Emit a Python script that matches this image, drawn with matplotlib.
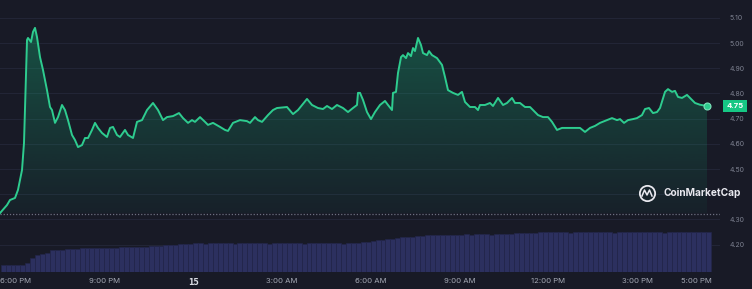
import numpy as np
import matplotlib
matplotlib.use("Agg")
import matplotlib.pyplot as plt
from matplotlib.lines import Line2D
from matplotlib.transforms import blended_transform_factory
from matplotlib.patches import Polygon

plt.rcParams['font.family'] = ['Inter', 'DejaVu Sans']

# ---- data (time in hours from 14th 00:00, price in USD) ----
price_time = [17.476, 17.713, 17.814, 17.983, 18.084, 18.220, 18.287, 18.389, 18.422, 18.524,
              18.591, 18.659, 18.726, 18.828, 18.929, 19.064, 19.166, 19.233, 19.335, 19.436,
              19.571, 19.672, 19.774, 19.909, 20.010, 20.112, 20.247, 20.348, 20.450, 20.585,
              20.686, 20.787, 20.922, 21.091, 21.193, 21.294, 21.429, 21.530, 21.699, 21.801,
              21.970, 22.105, 22.274, 22.443, 22.645, 22.814, 22.983, 23.118, 23.321, 23.524,
              23.659, 23.828, 23.963, 24.064, 24.233, 24.402, 24.503, 24.672, 24.909, 25.078,
              25.179, 25.348, 25.584, 25.821, 25.922, 26.091, 26.192, 26.328, 26.530, 26.699,
              26.834, 27.172, 27.375, 27.544, 27.848, 28.017, 28.219, 28.388, 28.524, 28.692,
              28.861, 29.064, 29.233, 29.402, 29.537, 29.571, 29.639, 29.740, 29.875, 30.010,
              30.145, 30.314, 30.483, 30.585, 30.720, 30.753, 30.855, 30.922, 31.024, 31.091,
              31.193, 31.260, 31.361, 31.429, 31.496, 31.598, 31.699, 31.767, 31.902, 31.969,
              32.071, 32.240, 32.409, 32.510, 32.611, 32.780, 32.949, 33.084, 33.186, 33.355,
              33.524, 33.625, 33.692, 33.861, 34.030, 34.132, 34.301, 34.470, 34.605, 34.774,
              34.875, 35.044, 35.213, 35.382, 35.483, 35.652, 35.821, 35.990, 36.125, 36.294,
              36.463, 36.632, 36.801, 36.970, 37.071, 37.240, 37.409, 37.578, 37.747, 37.983,
              38.152, 38.321, 38.423, 38.558, 38.692, 38.861, 38.997, 39.165, 39.267, 39.402,
              39.537, 39.672, 39.774, 39.943, 40.044, 40.179, 40.280, 40.382, 40.517, 40.686,
              40.787, 40.956, 41.125, 41.361]
price = [4.325, 4.357, 4.377, 4.385, 4.417, 4.496, 4.603, 5.012, 5.020, 5.004,
         5.044, 5.060, 5.024, 4.944, 4.893, 4.813, 4.746, 4.734, 4.683, 4.706,
         4.754, 4.734, 4.694, 4.635, 4.615, 4.587, 4.595, 4.623, 4.623, 4.655,
         4.683, 4.663, 4.643, 4.627, 4.663, 4.667, 4.635, 4.627, 4.655, 4.635,
         4.623, 4.687, 4.694, 4.734, 4.762, 4.734, 4.694, 4.706, 4.710, 4.722,
         4.702, 4.683, 4.694, 4.687, 4.706, 4.687, 4.675, 4.683, 4.667, 4.655,
         4.651, 4.683, 4.694, 4.690, 4.683, 4.706, 4.694, 4.687, 4.714, 4.734,
         4.742, 4.746, 4.718, 4.734, 4.778, 4.754, 4.742, 4.738, 4.750, 4.738,
         4.754, 4.742, 4.726, 4.742, 4.754, 4.802, 4.802, 4.774, 4.726, 4.698,
         4.726, 4.754, 4.770, 4.754, 4.734, 4.802, 4.806, 4.881, 4.944, 4.952,
         4.940, 4.960, 4.948, 4.980, 4.968, 5.020, 4.992, 4.960, 4.952, 4.968,
         4.952, 4.940, 4.913, 4.865, 4.813, 4.802, 4.794, 4.806, 4.766, 4.746,
         4.746, 4.734, 4.754, 4.754, 4.762, 4.750, 4.782, 4.754, 4.762, 4.782,
         4.762, 4.762, 4.746, 4.746, 4.734, 4.714, 4.706, 4.706, 4.687, 4.655,
         4.663, 4.663, 4.663, 4.663, 4.663, 4.647, 4.663, 4.671, 4.683, 4.694,
         4.702, 4.694, 4.698, 4.683, 4.694, 4.698, 4.702, 4.714, 4.738, 4.742,
         4.722, 4.726, 4.742, 4.806, 4.817, 4.806, 4.810, 4.786, 4.782, 4.794,
         4.782, 4.762, 4.755, 4.750]

open_price = 4.325
last_price = 4.75

# volume bars every 10 minutes from 17:30
vol_start = 17.5
volume = [7, 7, 7, 7, 7, 9, 14, 17, 18, 19,
          22, 22, 22.5, 23, 23, 23.5,
          24, 24, 24, 24, 24.5, 24.5, 24.5, 24.5, 25, 25, 25, 25, 25,
          25.5, 26, 26, 26.5,
          27, 27, 27.5, 28, 28, 28.5,
          29, 29, 28.5, 29, 29, 29.5, 29, 29, 28.5, 29, 29, 29, 29.5, 29, 29, 28.5, 29,
          29, 29, 29.5, 29, 29, 28.5, 29, 29, 29, 29.5, 29, 29, 29, 28.5, 29, 29, 29,
          30, 30.5, 31,
          32, 32.5, 33, 33.5, 34,
          35, 35, 35.5, 36, 36.5,
          37, 37, 37, 37.5, 37, 37.5, 37.5, 37.5, 38, 37.5, 38, 38, 38, 37.5, 38, 38,
          38.5, 38.5, 39, 39, 39, 39.5, 39.5, 40, 40, 40,
          40, 40, 40, 39.5, 40, 40, 40, 40, 40.5, 40, 40, 40, 39.5, 40, 40, 40,
          40, 40, 40, 40.5, 40, 40, 39.5, 40, 40, 40, 40, 40, 40.5, 40, 40, 40]

xtick_pos = [18, 21, 24, 27, 30, 33, 36, 39, 41]
xtick_lab = ['6:00 PM', '9:00 PM', '15', '3:00 AM', '6:00 AM', '9:00 AM', '12:00 PM', '3:00 PM', '5:00 PM']
ytick_pos = [5.10, 5.00, 4.90, 4.80, 4.70, 4.60, 4.50, 4.30, 4.20]
grid_levels = [5.10, 5.00, 4.90, 4.80, 4.70, 4.60, 4.50, 4.40, 4.30, 4.20]

# ---- style ----
BG = '#181a26'
GREEN = '#2ecc8f'
W, H = 752, 289
fig = plt.figure(figsize=(W / 100, H / 100), dpi=100, facecolor=BG)

plot_right = 720
bottom_px = 272
ax = fig.add_axes([0, (H - bottom_px) / H, plot_right / W, bottom_px / H])
ax.set_facecolor(BG)
for s in ax.spines.values():
    s.set_visible(False)

x0 = 17.4764
x1 = x0 + plot_right / 29.6
ax.set_xlim(x0, x1)
ymax = 5.0 + 43 / 252
ymin = 5.0 - (bottom_px - 43) / 252
ax.set_ylim(ymin, ymax)

for g in grid_levels:
    ax.axhline(g, color='#222536', lw=0.8, zorder=0)

# gradient fill under line
t = np.array(price_time)
p = np.array(price)
verts = [(t[0], open_price)] + list(zip(t, p)) + [(t[-1], open_price)]
poly = Polygon(verts, closed=True, facecolor='none', edgecolor='none')
ax.add_patch(poly)
n = 256
grad = np.zeros((n, 1, 4))
g_rgb = matplotlib.colors.to_rgb('#16c784')
grad[:, 0, 0] = g_rgb[0]
grad[:, 0, 1] = g_rgb[1]
grad[:, 0, 2] = g_rgb[2]
grad[:, 0, 3] = np.linspace(0.32, 0.04, n)
im = ax.imshow(grad, extent=[t[0], t[-1], open_price, max(p)], origin='upper',
               aspect='auto', zorder=1, interpolation='bilinear')
im.set_clip_path(poly)

ax.axhline(open_price - 0.004, color='#6d7080', lw=0.9, ls=(0, (1, 1.5)), zorder=2)

ax.plot(t, p, color=GREEN, lw=1.4, zorder=3, solid_joinstyle='round')
ax.plot(t[-1], p[-1], 'o', ms=5, mfc=GREEN, mec='#7fe3bb', mew=0.8, zorder=4)

ax.set_xticks(xtick_pos)
ax.set_xticklabels(xtick_lab)
ax.tick_params(axis='x', length=0, pad=4, labelsize=5.6, colors='#a3a7b3')
for lab in ax.get_xticklabels():
    if lab.get_text() == '15':
        lab.set_family('DejaVu Sans')
        lab.set_fontweight('bold')
        lab.set_color('#d8dbe2')

ax.yaxis.tick_right()
ax.set_yticks(ytick_pos)
ax.set_yticklabels([f'{v:.2f}' for v in ytick_pos])
ax.tick_params(axis='y', length=0, pad=7, labelsize=5.0, colors='#7d8190')

# current price tag
tr = blended_transform_factory(ax.transAxes, ax.transData)
ax.text(735 / plot_right, last_price, f'{last_price:.2f}', transform=tr, ha='center', va='center',
        fontsize=5.5, fontweight='bold', color='white', zorder=6,
        bbox=dict(boxstyle='square,pad=0.45', fc='#16c784', ec='none'))

# volume axes
vax = fig.add_axes([0, (H - bottom_px) / H, plot_right / W, 60 / H])
vax.set_facecolor('none')
vax.set_xlim(x0, x1)
vax.set_ylim(0, 60)
vax.axis('off')
vt = vol_start + np.arange(len(volume)) / 6.0
vax.bar(vt, volume, width=1 / 6.0, align='edge', color='#2c305f', edgecolor='#22254a', linewidth=0.5)

# logo
lx, ly = 647, 193
fig.add_artist(Line2D([lx / W], [1 - ly / H], marker='o', ms=11, mfc='none', mec='#e8e8ee', mew=1.3,
                      transform=fig.transFigure))
zx = [lx - 5, lx - 2.5, lx, lx + 2.5, lx + 5]
zy = [ly + 3, ly - 3, ly + 2, ly - 3, ly + 3]
fig.add_artist(Line2D([v / W for v in zx], [1 - v / H for v in zy], color='#e8e8ee', lw=1.1,
                      transform=fig.transFigure))
fig.text(663 / W, 1 - ly / H, 'CoinMarketCap', ha='left', va='center', fontsize=7.3,
         fontweight='bold', color='#e8e8ee')

fig.savefig('out.png', dpi=100, facecolor=BG)
